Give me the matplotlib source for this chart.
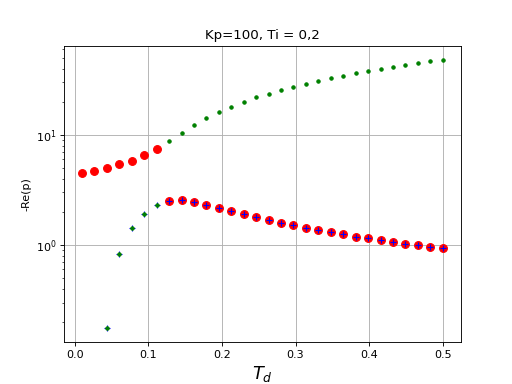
import numpy as np
import matplotlib.pyplot as plt

# Td values (30 steps between 0.01 and 0.5)
Td = np.linspace(0.01, 0.5, 30)

# real part of the complex pair (red circles)
re_complex = [4.49, 4.68, 4.98, 5.41, 5.84, 6.54, 7.41,
              2.50, 2.55, 2.44, 2.31, 2.16, 2.02, 1.91, 1.80, 1.68,
              1.585, 1.52, 1.42, 1.36, 1.30, 1.25, 1.19, 1.15, 1.10,
              1.06, 1.02, 0.99, 0.953, 0.933]

# real poles, fast branch (green dots), Td index 7..29
re_fast = [8.82, 10.4, 12.3, 14.3, 16.2, 18.0, 20.0, 22.2, 23.6, 25.7,
           27.4, 29.2, 31.1, 33.1, 34.5, 36.7, 38.3, 40.0, 41.7, 43.5,
           45.3, 47.3, 48.3]

# real poles, slow branch (green dots with blue +), Td index 2..6
re_slow = [0.175, 0.823, 1.42, 1.90, 2.30]

plt.figure()
plt.semilogy(Td, re_complex, 'ro', markersize=7)
plt.semilogy(Td[7:], re_fast, 'g.')
# smallest pole marked with a blue cross
smallest = re_slow + re_complex[7:]
plt.semilogy(Td[2:], smallest, 'b+')
plt.semilogy(Td[2:7], re_slow, 'g.')
plt.grid(True)
plt.title('Kp=100, Ti = 0,2')
plt.xlabel('$T_d$', fontsize=16)
plt.ylabel('-Re(p)')
plt.savefig('out.png', dpi=80)
